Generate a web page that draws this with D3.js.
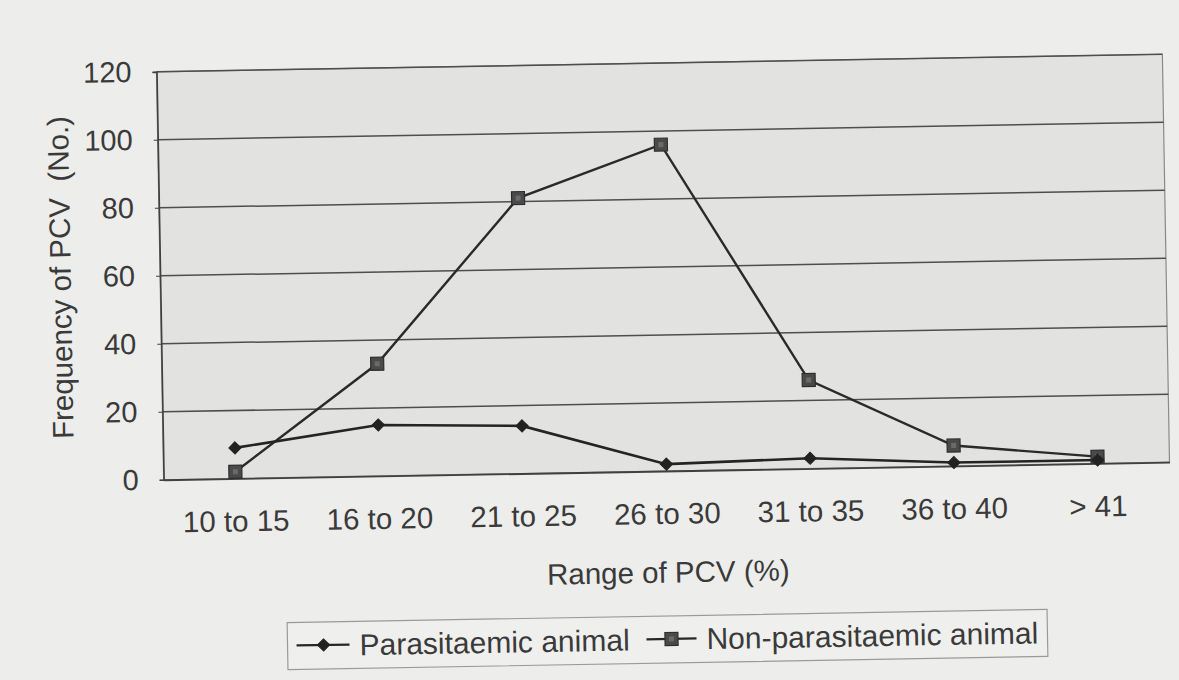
<!DOCTYPE html>
<html>
<head>
<meta charset="utf-8">
<script src="https://cdn.jsdelivr.net/npm/d3@7/dist/d3.min.js"></script>
<style>
  html, body { margin: 0; padding: 0; background: #ededeb; }
  svg { display: block; }
  text { font-family: "Liberation Sans", Arial, sans-serif; fill: #3a3a3a; }
</style>
</head>
<body>
<svg id="chart" width="1179" height="680"></svg>
<script>
// ---- data ----
const categories = ["10 to 15", "16 to 20", "21 to 25", "26 to 30", "31 to 35", "36 to 40", "> 41"];
const parasitaemic = [9, 15, 14, 2, 3, 1, 1];
const nonParasitaemic = [2, 33, 81, 96, 26, 6, 2];
const yTicks = [0, 20, 40, 60, 80, 100, 120];
const seriesNames = ["Parasitaemic animal", "Non-parasitaemic animal"];
const yTitle = "Frequency of PCV\u00a0\u00a0(No.)";
const xTitle = "Range of PCV (%)";

// ---- layout ----
const W = 1179, H = 680;
const plot = { left: 160, right: 1166, top: 63, bottom: 471 };
const cx = (plot.left + plot.right) / 2, cy = (plot.top + plot.bottom) / 2;

const svg = d3.select("#chart");
svg.append("rect").attr("width", W).attr("height", H).attr("fill", "#ededeb");

// whole scanned page is slightly tilted
const g = svg.append("g").attr("transform", `rotate(-1, ${cx}, ${cy})`);

const x = d3.scaleBand().domain(categories).range([plot.left, plot.right]);
const y = d3.scaleLinear().domain([0, 120]).range([plot.bottom, plot.top]);

// plot area
g.append("rect")
  .attr("x", plot.left).attr("y", plot.top)
  .attr("width", plot.right - plot.left).attr("height", plot.bottom - plot.top)
  .attr("fill", "#e2e2e0").attr("stroke", "#8a8a8a").attr("stroke-width", 1.2);

// gridlines
g.append("g").selectAll("line").data(yTicks.filter(d => d > 0)).join("line")
  .attr("x1", plot.left).attr("x2", plot.right)
  .attr("y1", d => y(d)).attr("y2", d => y(d))
  .attr("stroke", "#4e4e4e").attr("stroke-width", 1.5);

// y axis
const yAxis = g.append("g").attr("transform", `translate(${plot.left},0)`)
  .call(d3.axisLeft(y).tickValues(yTicks).tickSize(4).tickPadding(21));
yAxis.select(".domain").attr("stroke", "#404040").attr("stroke-width", 1.6);
yAxis.selectAll(".tick line").attr("stroke", "#404040");
yAxis.selectAll(".tick text").attr("font-size", 29).attr("fill", "#3a3a3a")
  .style("font-family", '"Liberation Sans", Arial, sans-serif');

// x axis
const xAxis = g.append("g").attr("transform", `translate(0,${plot.bottom})`)
  .call(d3.axisBottom(x).tickSize(0).tickPadding(32));
xAxis.select(".domain").attr("stroke", "#404040").attr("stroke-width", 1.8);
xAxis.selectAll(".tick text").attr("font-size", 29.5).attr("fill", "#3a3a3a")
  .style("font-family", '"Liberation Sans", Arial, sans-serif');

// axis titles
g.append("text")
  .attr("transform", `translate(60, ${cy}) rotate(-90)`)
  .attr("text-anchor", "middle").attr("dy", "0.36em")
  .attr("font-size", 29.5).text(yTitle);
g.append("text")
  .attr("x", cx).attr("y", 572).attr("text-anchor", "middle").attr("dy", "0.36em")
  .attr("font-size", 29.5).text(xTitle);

// lines
const cxOf = (d, i) => x(categories[i]) + x.bandwidth() / 2;
const line = d3.line().x(cxOf).y(d => y(d));

g.append("path").datum(nonParasitaemic).attr("d", line)
  .attr("fill", "none").attr("stroke", "#2a2a2a").attr("stroke-width", 2.4);
g.append("path").datum(parasitaemic).attr("d", line)
  .attr("fill", "none").attr("stroke", "#242424").attr("stroke-width", 2.6);

const diamond = d3.symbol().type(d3.symbolDiamond2).size(95);

function squareMarker(sel, px, py) {
  sel.append("rect").attr("x", px - 6.5).attr("y", py - 6.5)
    .attr("width", 13).attr("height", 13)
    .attr("fill", "#4a4a4a").attr("stroke", "#2e2e2e").attr("stroke-width", 1.2);
  sel.append("rect").attr("x", px - 2.5).attr("y", py - 2.5)
    .attr("width", 5).attr("height", 5).attr("fill", "#6a6a6a");
}
function diamondMarker(sel, px, py) {
  sel.append("path").attr("d", diamond())
    .attr("transform", `translate(${px},${py})`)
    .attr("fill", "#222").attr("stroke", "#222").attr("stroke-width", 1);
}

const mNon = g.append("g");
nonParasitaemic.forEach((d, i) => squareMarker(mNon, cxOf(d, i), y(d)));
const mPar = g.append("g");
parasitaemic.forEach((d, i) => diamondMarker(mPar, cxOf(d, i), y(d)));

// legend
const leg = g.append("g");
leg.append("rect").attr("x", 281).attr("y", 616).attr("width", 760).attr("height", 47)
  .attr("fill", "#efefed").attr("stroke", "#9a9a9a").attr("stroke-width", 1.2);
const legY = 639;
leg.append("line").attr("x1", 290).attr("x2", 343).attr("y1", legY).attr("y2", legY)
  .attr("stroke", "#262626").attr("stroke-width", 2.2);
diamondMarker(leg, 317, legY);
leg.append("text").attr("x", 353).attr("y", legY).attr("dy", "0.36em")
  .attr("font-size", 30).text(seriesNames[0]);
leg.append("line").attr("x1", 640).attr("x2", 690).attr("y1", legY).attr("y2", legY)
  .attr("stroke", "#262626").attr("stroke-width", 2.2);
squareMarker(leg, 665, legY);
leg.append("text").attr("x", 700).attr("y", legY).attr("dy", "0.36em")
  .attr("font-size", 30).text(seriesNames[1]);
</script>
</body>
</html>
